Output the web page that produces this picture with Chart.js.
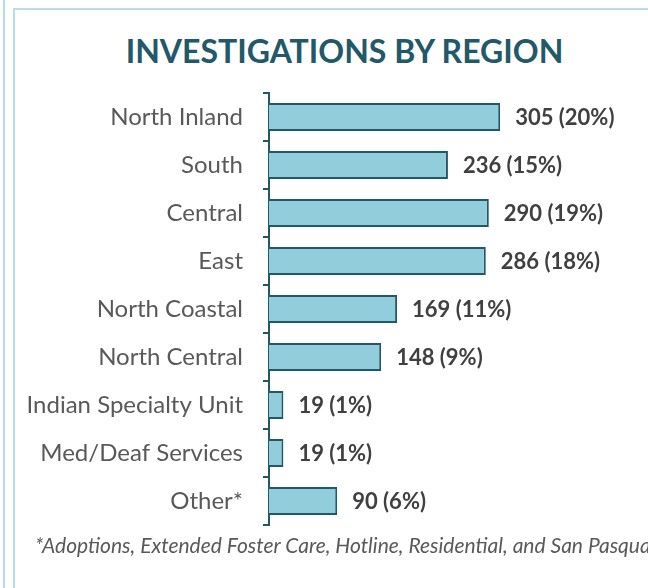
<!DOCTYPE html>
<html>
<head>
<meta charset="utf-8">
<script src="https://cdn.jsdelivr.net/npm/chart.js@4.4.1/dist/chart.umd.min.js"></script>
<style>
  html, body { margin: 0; padding: 0; background: #fff; }
  body { width: 648px; height: 588px; position: relative; overflow: hidden; font-family: Lato, sans-serif; }
  #chart { position: absolute; left: 0; top: 0; }
  .frame-outer { position: absolute; left: 3px; top: 0; width: 2px; height: 588px; background: #B7DEE8; }
  .frame-inner { position: absolute; left: 13px; top: 8px; width: 640px; height: 600px; border-left: 2px solid #B7DEE8; border-top: 2px solid #B7DEE8; }
  #title { position: absolute; left: 41px; width: 607px; top: 32px; text-align: center; font-weight: bold; font-size: 32px; line-height: 38px; color: #215968; white-space: nowrap; }
  #note { position: absolute; left: 35px; top: 532px; font-style: italic; font-size: 21px; line-height: 25px; color: #595959; white-space: nowrap; }
</style>
</head>
<body>
<div class="frame-outer"></div>
<div class="frame-inner"></div>
<div id="title">INVESTIGATIONS BY REGION</div>
<canvas id="chart" width="648" height="588"></canvas>
<div id="note">*Adoptions, Extended Foster Care, Hotline, Residential, and San Pasqual Academy</div>
<script>
// data
const regions = ['North Inland', 'South', 'Central', 'East', 'North Coastal', 'North Central',
                 'Indian Specialty Unit', 'Med/Deaf Services', 'Other*'];
const investigations = [305, 236, 290, 286, 169, 148, 19, 19, 90];
const percents = [20, 15, 19, 18, 11, 9, 1, 1, 6];

const teal = '#215968';

// value labels at the end of each bar
const barLabels = {
    id: 'barLabels',
    afterDatasetsDraw(chart) {
        const ctx = chart.ctx;
        const meta = chart.getDatasetMeta(0);
        ctx.save();
        ctx.font = 'bold 22px Lato';
        ctx.fillStyle = '#404040';
        ctx.textBaseline = 'middle';
        meta.data.forEach(function(bar, i) {
            ctx.fillText(investigations[i] + ' (' + percents[i] + '%)', bar.x + 15, bar.y + 1);
        });
        ctx.restore();
    }
};

new Chart(document.getElementById('chart'), {
    type: 'bar',
    data: {
        labels: regions,
        datasets: [{
            data: investigations,
            backgroundColor: '#92CDDC',
            borderColor: teal,
            borderWidth: 2,
            barPercentage: 0.58,
            categoryPercentage: 1
        }]
    },
    options: {
        indexAxis: 'y',
        responsive: false,
        animation: false,
        layout: { padding: { left: 0, right: 0, top: 93, bottom: 63 } },
        plugins: {
            legend: { display: false },
            tooltip: { enabled: false },
            title: { display: false }
        },
        scales: {
            x: { display: false, min: 0, max: 500 },
            y: {
                grid: { drawOnChartArea: false, drawTicks: true, tickLength: 6, color: teal, lineWidth: 2, offset: true },
                border: { color: teal, width: 2 },
                ticks: { color: '#595959', font: { family: 'Lato', size: 24 }, padding: 20 },
                afterFit: function(scale) { scale.width = 269; }
            }
        }
    },
    plugins: [barLabels]
});
</script>
</body>
</html>
